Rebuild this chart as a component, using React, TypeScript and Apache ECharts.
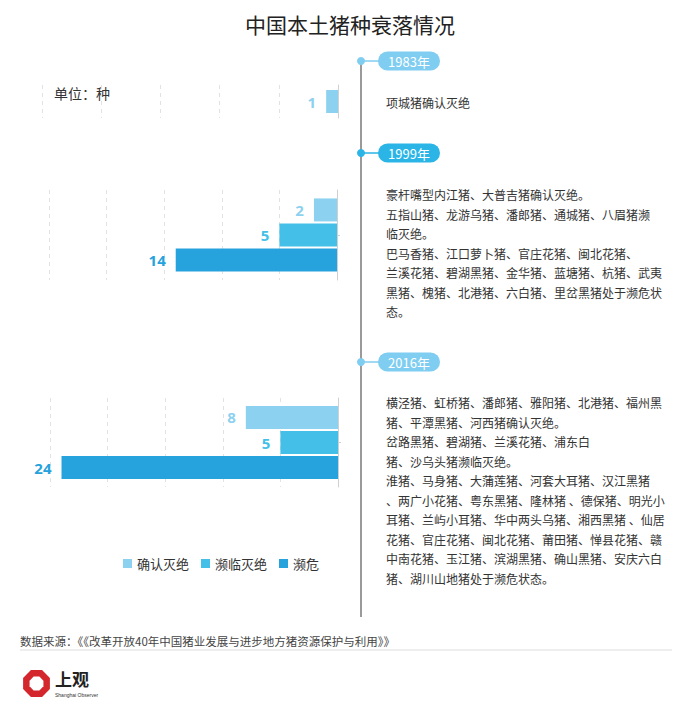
import React, { useEffect, useRef } from "react";
import * as echarts from "echarts";

const titleText = "中国本土猪种衰落情况";
const unitText = "单位：种";
const years = ["1983年", "1999年", "2016年"];
const seriesNames = ["确认灭绝", "濒临灭绝", "濒危"];
const extinct = [1, 2, 8];
const nearExtinct = [null, 5, 5];
const endangered = [null, 14, 24];
const axisMax = 25;
const tickInterval = 5;

const desc1983 = ["项城猪确认灭绝"];
const desc1999 = [
  "豪杆嘴型内江猪、大普吉猪确认灭绝。",
  "五指山猪、龙游乌猪、潘郎猪、通城猪、八眉猪濒",
  "临灭绝。",
  "巴马香猪、江口萝卜猪、官庄花猪、闽北花猪、",
  "兰溪花猪、碧湖黑猪、金华猪、蓝塘猪、杭猪、武夷",
  "黑猪、槐猪、北港猪、六白猪、里岔黑猪处于濒危状",
  "态。",
];
const desc2016 = [
  "横泾猪、虹桥猪、潘郎猪、雅阳猪、北港猪、福州黑",
  "猪、平潭黑猪、河西猪确认灭绝。",
  "岔路黑猪、碧湖猪、兰溪花猪、浦东白",
  "猪、沙乌头猪濒临灭绝。",
  "淮猪、马身猪、大蒲莲猪、河套大耳猪、汉江黑猪",
  "、两广小花猪、粤东黑猪、隆林猪 、德保猪、明光小",
  "耳猪、兰屿小耳猪、华中两头乌猪、湘西黑猪 、仙居",
  "花猪、官庄花猪、闽北花猪、莆田猪、惮县花猪、赣",
  "中南花猪、玉江猪、滨湖黑猪、确山黑猪、安庆六白",
  "猪、湖川山地猪处于濒危状态。",
];
const sourceText = "数据来源：《《改革开放40年中国猪业发展与进步地方猪资源保护与利用》》";

const colors = ["#8dd1f0", "#44bfe8", "#26a2dd"];
const labelColors = ["#8dd1f0", "#44bfe8", "#26a2dd"];
const CJK = "'Noto Sans CJK SC', 'Noto Sans', sans-serif";

export default function App() {
  const ref = useRef<HTMLDivElement>(null);

  useEffect(() => {
    document.body.style.margin = "0";
    if (!ref.current) return;
    const chart = echarts.init(ref.current, undefined, { renderer: "svg" });

    const grids = [
      { left: 42, right: 362, top: 85, height: 33 },
      { left: 49, right: 363, top: 190, height: 90 },
      { left: 50, right: 362, top: 398, height: 89 },
    ];

    const xAxes = grids.map((_, i) => ({
      type: "value",
      gridIndex: i,
      inverse: true,
      min: 0,
      max: axisMax,
      interval: tickInterval,
      axisLabel: { show: false },
      axisLine: { show: false },
      axisTick: { show: false },
      splitLine: { show: true, lineStyle: { type: [4, 4], color: "#e2e2e2", width: 1 } },
    }));

    const yAxes = grids.map((_, i) => ({
      type: "category",
      gridIndex: i,
      position: "right",
      inverse: true,
      data: [years[i]],
      axisLabel: { show: false },
      axisLine: { show: true, lineStyle: { color: "#d0d0d0", width: 1 } },
      axisTick: { show: i > 0, alignWithLabel: true, length: 3, lineStyle: { color: "#d0d0d0" } },
    }));

    const valueSets = [extinct, nearExtinct, endangered];
    const series: any[] = [];
    for (let g = 0; g < 3; g++) {
      for (let s = 0; s < 3; s++) {
        const v = valueSets[s][g];
        if (v === null) continue;
        series.push({
          type: "bar",
          name: seriesNames[s],
          xAxisIndex: g,
          yAxisIndex: g,
          data: [v],
          barWidth: 23,
          barGap: "9%",
          itemStyle: { color: colors[s] },
          label: {
            show: true,
            position: "left",
            distance: 10,
            color: labelColors[s],
            fontSize: 15,
            fontWeight: "bold",
            fontFamily: "'Noto Sans', sans-serif",
          },
        });
      }
    }

    const timelineX = 361;
    const markerYs = [61, 153, 362];
    const markerColors = ["#7fcdf1", "#2bb5e6", "#7fcdf1"];
    const textTops = [93, 185, 393];
    const descs = [desc1983, desc1999, desc2016];

    const graphic: any[] = [
      {
        type: "line",
        shape: { x1: timelineX, y1: markerYs[0], x2: timelineX, y2: 617 },
        style: { stroke: "#9a9a9a", lineWidth: 2 },
      },
      {
        type: "text",
        x: 54,
        y: 93,
        style: { text: unitText, fill: "#333", fontSize: 14, fontFamily: CJK, verticalAlign: "middle" },
      },
    ];
    markerYs.forEach((y, i) => {
      graphic.push(
        {
          type: "line",
          shape: { x1: timelineX, y1: y, x2: 380, y2: y },
          style: { stroke: markerColors[i], lineWidth: 1.5 },
        },
        { type: "circle", shape: { cx: timelineX, cy: y, r: 4 }, style: { fill: markerColors[i] } },
        {
          type: "rect",
          shape: { x: 378, y: y - 9.5, width: 62, height: 19, r: 9.5 },
          style: { fill: markerColors[i] },
        },
        {
          type: "text",
          x: 409,
          y: y,
          style: {
            text: years[i],
            fill: "#fff",
            fontSize: 13,
            fontFamily: CJK,
            align: "center",
            verticalAlign: "middle",
          },
        },
        {
          type: "text",
          x: 386,
          y: textTops[i],
          style: {
            text: descs[i].join("\n"),
            fill: "#333",
            fontSize: 12,
            lineHeight: 19.5,
            fontFamily: CJK,
            verticalAlign: "top",
          },
        }
      );
    });

    // footer
    graphic.push(
      {
        type: "text",
        x: 20,
        y: 641,
        style: { text: sourceText, fill: "#444", fontSize: 11.5, fontFamily: CJK, verticalAlign: "middle" },
      },
      {
        type: "line",
        shape: { x1: 20, y1: 650, x2: 672, y2: 650 },
        style: { stroke: "#eeeeee", lineWidth: 2 },
      }
    );

    // logo
    const oct = (cx: number, cy: number, r: number) => {
      const pts: number[][] = [];
      for (let k = 0; k < 8; k++) {
        const a = (Math.PI / 4) * k + Math.PI / 8;
        pts.push([cx + r * Math.cos(a), cy + r * Math.sin(a)]);
      }
      return pts;
    };
    graphic.push(
      { type: "polygon", shape: { points: oct(36.5, 683.5, 14.5) }, style: { fill: "#d3262d" } },
      { type: "polygon", shape: { points: oct(36.5, 683.5, 7.5) }, style: { fill: "#fff" } },
      {
        type: "text",
        x: 55,
        y: 678,
        style: {
          text: "上观",
          fill: "#222",
          fontSize: 17,
          fontWeight: "bold",
          fontFamily: CJK,
          verticalAlign: "middle",
        },
      },
      {
        type: "text",
        x: 55,
        y: 695,
        style: {
          text: "Shanghai Observer",
          fill: "#333",
          fontSize: 5,
          fontFamily: "'Liberation Sans', sans-serif",
          verticalAlign: "middle",
        },
      }
    );

    chart.setOption({
      animation: false,
      backgroundColor: "#fff",
      title: {
        text: titleText,
        left: "center",
        top: 8,
        textStyle: { fontSize: 21, fontWeight: "normal", color: "#222", fontFamily: CJK },
      },
      legend: {
        data: seriesNames,
        left: 118,
        top: 552,
        icon: "rect",
        itemWidth: 9,
        itemHeight: 9,
        itemGap: 12,
        textStyle: { color: "#333", fontSize: 13, fontFamily: CJK },
      },
      grid: grids,
      xAxis: xAxes,
      yAxis: yAxes,
      series,
      graphic,
    });

    return () => chart.dispose();
  }, []);

  return <div ref={ref} style={{ width: 700, height: 714 }} />;
}
